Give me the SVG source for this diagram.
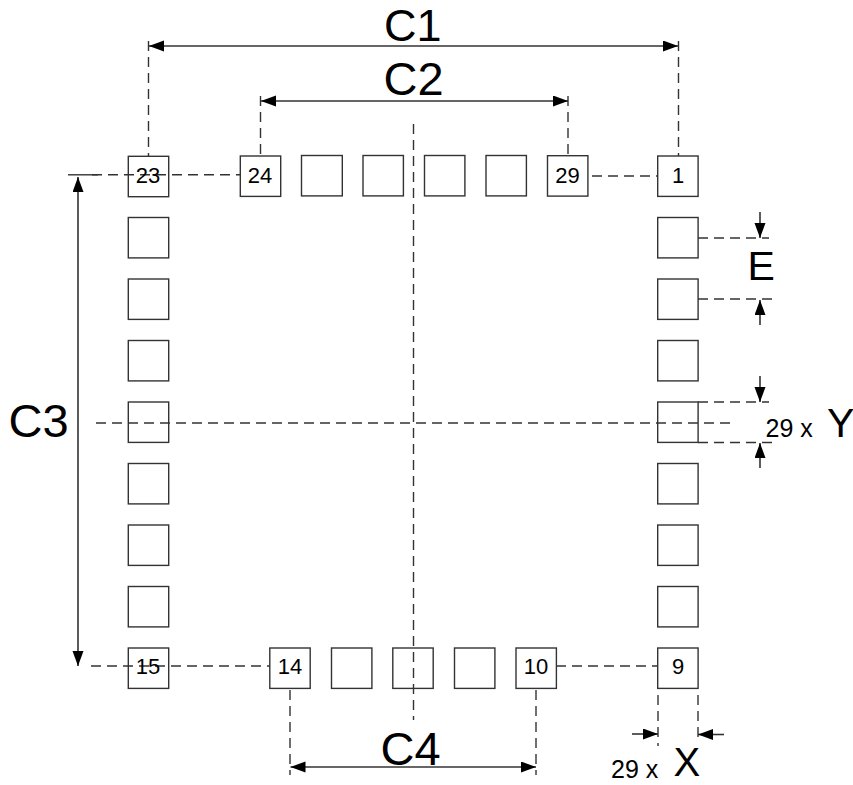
<svg xmlns="http://www.w3.org/2000/svg" width="853" height="785" viewBox="0 0 853 785">
<defs>
<marker id="arr" markerUnits="userSpaceOnUse" markerWidth="16" markerHeight="12" refX="15" refY="5.500" orient="auto-start-reverse"><path d="M0,0 L15,5.500 L0,11 Z" fill="#000"/></marker>
</defs>
<style>
.p{fill:#fff;stroke:#333;stroke-width:1.4}
.d{fill:none;stroke:#333;stroke-width:1.4;stroke-dasharray:10 6}
.s{fill:none;stroke:#333;stroke-width:1.4}
.a{fill:none;stroke:#333;stroke-width:1.6}
.n{font-family:"Liberation Sans",Arial,sans-serif;font-size:22px;fill:#000;text-anchor:middle}
.b{font-family:"Liberation Sans",Arial,sans-serif;font-size:47px;fill:#000}
.t{font-size:45px}
.l{font-family:"Liberation Sans",Arial,sans-serif;font-size:41px;fill:#000}
.x{font-size:40px}
.m{font-family:"Liberation Sans",Arial,sans-serif;font-size:25px;fill:#000}
</style>
<g id="pads">
<g id="pad-23"><rect class="p" x="128.300" y="156.300" width="40.400" height="40.400"/></g>
<g id="pad-24"><rect class="p" x="240.300" y="156" width="40.400" height="40.400"/></g>
<g id="pad-25"><rect class="p" x="301.500" y="155.500" width="40.800" height="40.400"/></g>
<g id="pad-26"><rect class="p" x="363" y="155.500" width="40.400" height="40.400"/></g>
<g id="pad-27"><rect class="p" x="424.500" y="155.500" width="40.400" height="40.400"/></g>
<g id="pad-28"><rect class="p" x="486" y="155.500" width="40.400" height="40.400"/></g>
<g id="pad-29"><rect class="p" x="547.500" y="155.700" width="40.400" height="40.400"/></g>
<g id="pad-1"><rect class="p" x="657.700" y="156" width="40.400" height="40.400"/></g>
<g id="pad-22"><rect class="p" x="128.300" y="217.500" width="40.400" height="40.400"/></g>
<g id="pad-21"><rect class="p" x="128.300" y="279" width="40.400" height="40.400"/></g>
<g id="pad-20"><rect class="p" x="128.300" y="340.500" width="40.400" height="40.400"/></g>
<g id="pad-19"><rect class="p" x="128.300" y="402" width="40.400" height="40.400"/></g>
<g id="pad-18"><rect class="p" x="128.300" y="463.500" width="40.400" height="40.400"/></g>
<g id="pad-17"><rect class="p" x="128.300" y="525" width="40.400" height="40.400"/></g>
<g id="pad-16"><rect class="p" x="128.300" y="586.500" width="40.400" height="40.400"/></g>
<g id="pad-15"><rect class="p" x="128.300" y="648" width="40.400" height="40.400"/></g>
<g id="pad-2"><rect class="p" x="657.700" y="217.500" width="40.400" height="40.400"/></g>
<g id="pad-3"><rect class="p" x="657.700" y="279" width="40.400" height="40.400"/></g>
<g id="pad-4"><rect class="p" x="657.700" y="340.500" width="40.400" height="40.400"/></g>
<g id="pad-5"><rect class="p" x="657.700" y="402" width="40.400" height="40.400"/></g>
<g id="pad-6"><rect class="p" x="657.700" y="463.500" width="40.400" height="40.400"/></g>
<g id="pad-7"><rect class="p" x="657.700" y="525" width="40.400" height="40.400"/></g>
<g id="pad-8"><rect class="p" x="657.700" y="586.500" width="40.400" height="40.400"/></g>
<g id="pad-9"><rect class="p" x="657.700" y="648" width="40.400" height="40.400"/></g>
<g id="pad-14"><rect class="p" x="269.800" y="648" width="40.400" height="40.400"/></g>
<g id="pad-13"><rect class="p" x="331.500" y="648" width="40.400" height="40.400"/></g>
<g id="pad-12"><rect class="p" x="392.800" y="648" width="40.400" height="40.400"/></g>
<g id="pad-11"><rect class="p" x="454.500" y="648" width="40.400" height="40.400"/></g>
<g id="pad-10"><rect class="p" x="516" y="648" width="40.400" height="40.400"/></g>
</g>
<g id="connectors">
<path class="d" d="M148.500 41V156M260.500 96V156M568 96V156M678.500 41V156"/>
<path class="d" d="M92 174.800H240M592 176H658M91 666H270M556 666H658"/>
<path class="s" d="M68 174.800H98"/>
<path class="d" d="M413.500 124V720"/>
<path class="d" d="M96 423H733"/>
<path class="d" d="M290 690V775M536 690V775M658 695V746M698 695V743"/>
<path class="d" d="M698 238H769M698 299H772M698 402H769M698 442.500H772"/>
<path class="a" marker-start="url(#arr)" marker-end="url(#arr)" d="M149 46H678"/>
<path class="a" marker-start="url(#arr)" marker-end="url(#arr)" d="M261 101H568"/>
<path class="a" marker-start="url(#arr)" marker-end="url(#arr)" d="M78 177V666"/>
<path class="a" marker-start="url(#arr)" marker-end="url(#arr)" d="M290.500 767H536"/>
<path class="a" marker-end="url(#arr)" d="M760 212V238"/>
<path class="a" marker-end="url(#arr)" d="M760 325V300"/>
<path class="a" marker-end="url(#arr)" d="M760 376V402"/>
<path class="a" marker-end="url(#arr)" d="M760 468V443"/>
<path class="a" marker-end="url(#arr)" d="M632 734H658"/>
<path class="a" marker-end="url(#arr)" d="M724 734.500H698"/>
</g>
<g id="labels">
<text class="n" x="148" y="183">23</text>
<text class="n" x="260" y="183">24</text>
<text class="n" x="567.500" y="183">29</text>
<text class="n" x="678" y="183">1</text>
<text class="n" x="148" y="674">15</text>
<text class="n" x="290" y="674">14</text>
<text class="n" x="536" y="674">10</text>
<text class="n" x="678" y="674">9</text>
<text class="b t" x="384" y="41">C1</text>
<text class="b" x="383.500" y="95">C2</text>
<text class="b" x="8.500" y="437">C3</text>
<text class="b" x="380.500" y="765">C4</text>
<text class="l" x="747.500" y="280">E</text>
<text class="m" x="765.500" y="437">29 x</text>
<text class="l" x="827" y="437">Y</text>
<text class="m" x="611" y="778">29 x</text>
<text class="l x" x="673.500" y="776">X</text>
</g>
</svg>
